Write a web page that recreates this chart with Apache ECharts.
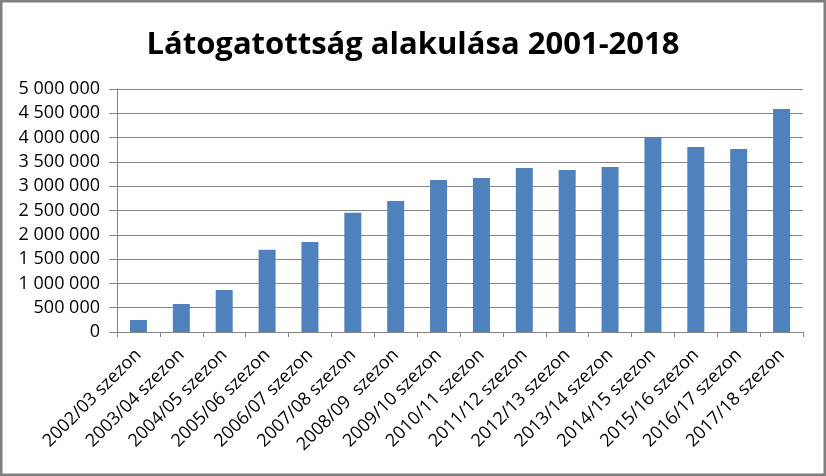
<!DOCTYPE html>
<html><head><meta charset="utf-8">
<script src="https://cdn.jsdelivr.net/npm/echarts@6/dist/echarts.min.js"></script>
<style>html,body{margin:0;padding:0;background:#fff}#c{width:826px;height:476px}</style>
</head><body><div id="c"></div>
<script>
const titleText = 'Látogatottság alakulása 2001-2018';
const categories = ['2002/03 szezon','2003/04 szezon','2004/05 szezon','2005/06 szezon','2006/07 szezon','2007/08 szezon','2008/09  szezon','2009/10 szezon','2010/11 szezon','2011/12 szezon','2012/13 szezon','2013/14 szezon','2014/15 szezon','2015/16 szezon','2016/17 szezon','2017/18 szezon'];
const visitors = [247000, 576000, 864000, 1694000, 1852000, 2455000, 2695000, 3128000, 3169000, 3374000, 3333000, 3395000, 4012000, 3807000, 3765000, 4588000];
const yMin = 0, yMax = 5000000, yStep = 500000;

function fmt(v){ return String(v).replace(/\B(?=(\d{3})+(?!\d))/g,' '); }

const chart = echarts.init(document.getElementById('c'));
chart.setOption({
  animation:false,
  backgroundColor:'#fff',
  title:{text:titleText,left:'center',top:25,textStyle:{fontFamily:'Open Sans',fontWeight:'bold',fontSize:31,color:'#000'}},
  grid:{left:117,right:23,top:89,bottom:144},
  xAxis:{type:'category',data:categories,
    axisLine:{lineStyle:{color:'#868686',width:1}},
    axisTick:{show:true,length:5,lineStyle:{color:'#868686'}},
    axisLabel:{rotate:45,interval:0,fontFamily:'Open Sans',fontSize:18,color:'#000',margin:20}},
  yAxis:{type:'value',min:yMin,max:yMax,interval:yStep,
    axisLine:{show:true,lineStyle:{color:'#868686'}},
    axisTick:{show:true,length:8,lineStyle:{color:'#868686'}},
    splitLine:{lineStyle:{color:'#868686',width:1}},
    axisLabel:{formatter:fmt,fontFamily:'Open Sans',fontSize:18,color:'#000',margin:17}},
  series:[{type:'bar',data:visitors,barWidth:17,itemStyle:{color:'#4f81bd'}}],
  graphic:[{type:'rect',shape:{x:1,y:1,width:824,height:474},style:{fill:'none',stroke:'#7f7f7f',lineWidth:3},z:100}]
});
</script></body></html>
